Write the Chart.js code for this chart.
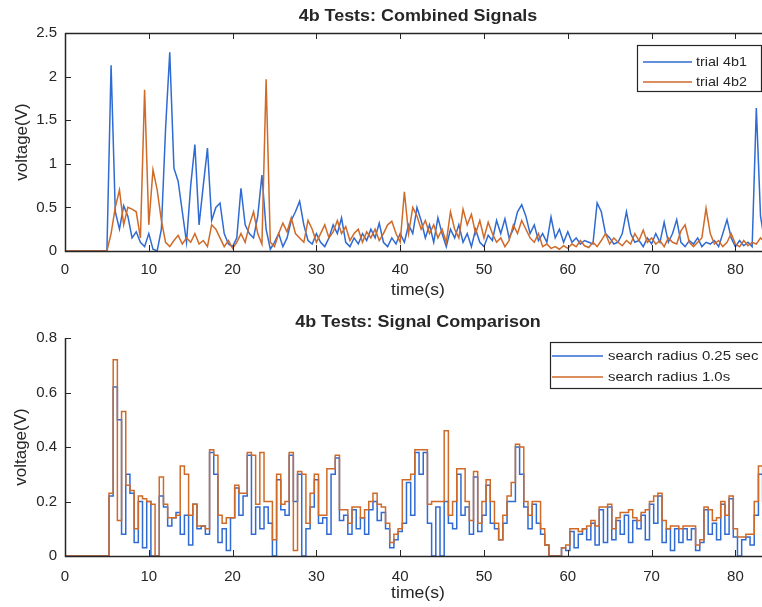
<!DOCTYPE html>
<html>
<head>
<meta charset="utf-8">
<script src="https://cdn.jsdelivr.net/npm/chart.js@4.4.1/dist/chart.umd.min.js"></script>
<style>
  html, body { margin: 0; padding: 0; background: #fff; overflow: hidden; }
  body { width: 762px; height: 607px; position: relative; }
  .panel { position: absolute; left: 0; width: 775px; }
  #top { top: 0; height: 300px; }
  #bottom { top: 300px; height: 307px; }
</style>
</head>
<body>
<div class="panel" id="top"><canvas id="chart-top"></canvas></div>
<div class="panel" id="bottom"><canvas id="chart-bottom"></canvas></div>
<script>
// samples every 0.5 s
const trial4b1 = [
    0, 0, 0, 0, 0, 0, 0, 0, 0, 0, 0,
    2.13, 0.45, 0.25, 0.52, 0.4, 0.15, 0.22, 0.1, 0.05, 0.2,
    0.02, 0, 0.25, 1.4, 2.28, 0.95, 0.8, 0.45, 0.1, 0.75,
    1.22, 0.3, 0.75, 1.18, 0.35, 0.5, 0.55, 0.2, 0.08, 0.05,
    0.15, 0.72, 0.3, 0.2, 0.15, 0.4, 0.87, 0.25, 0.02, 0.1,
    0.2, 0.05, 0.15, 0.35, 0.45, 0.57, 0.3, 0.12, 0.08, 0.2,
    0.1, 0.05, 0.15, 0.3, 0.2, 0.38, 0.1, 0.05, 0.15, 0.08,
    0.2, 0.12, 0.25, 0.15, 0.32, 0.1, 0.05, 0.15, 0.08, 0.2,
    0.1, 0.3, 0.2, 0.5, 0.35, 0.15, 0.3, 0.1, 0.38, 0.2,
    0.05, 0.25, 0.15, 0.3, 0.1, 0.2, 0.05, 0.25, 0.1, 0.05,
    0.18, 0.12, 0.35, 0.2, 0.37, 0.15, 0.25, 0.45, 0.53, 0.4,
    0.2, 0.3, 0.12, 0.2, 0.1, 0.39, 0.15, 0.25, 0.1, 0.22,
    0.1, 0.15, 0.08, 0.12, 0.1, 0.08, 0.55, 0.45, 0.2, 0.15,
    0.08, 0.1, 0.2, 0.45, 0.2, 0.1, 0.12, 0.05, 0.15, 0.08,
    0.2, 0.1, 0.33, 0.1, 0.2, 0.36, 0.1, 0.05, 0.12, 0.08,
    0.15, 0.05, 0.1, 0.08, 0.12, 0.05, 0.2, 0.36, 0.15, 0.05,
    0.12, 0.06, 0.1, 0.05, 1.64, 0.4, 0.1, 0.12, 0.1
];
const trial4b2 = [
    0, 0, 0, 0, 0, 0, 0, 0, 0, 0, 0,
    0.2, 0.5, 0.7, 0.3, 0.5, 0.48, 0.45, 0.15, 1.85, 0.3,
    0.93, 0.7, 0.35, 0.1, 0.05, 0.12, 0.18, 0.08, 0.15, 0.1,
    0.2, 0.08, 0.12, 0.05, 0.3, 0.25, 0.15, 0.05, 0.12, 0.03,
    0.1, 0.2, 0.1, 0.3, 0.45, 0.2, 0.08, 1.97, 0.1, 0.05,
    0.2, 0.32, 0.22, 0.38, 0.2, 0.15, 0.1, 0.35, 0.25, 0.1,
    0.2, 0.3, 0.15, 0.22, 0.35, 0.2, 0.28, 0.12, 0.2, 0.25,
    0.1, 0.22, 0.15, 0.25, 0.12, 0.2, 0.3, 0.34, 0.2, 0.1,
    0.68, 0.2, 0.5, 0.4, 0.25, 0.35, 0.2, 0.3, 0.15, 0.25,
    0.1, 0.45, 0.25, 0.15, 0.48, 0.3, 0.42, 0.2, 0.35, 0.15,
    0.33, 0.2, 0.1, 0.15, 0.05, 0.12, 0.3, 0.2, 0.35, 0.25,
    0.15, 0.1, 0.2, 0.05, 0.08, 0.03, 0.05, 0.02, 0.06, 0.03,
    0.08, 0.05, 0.12, 0.06, 0.04, 0.1, 0.05, 0.12, 0.2, 0.08,
    0.15, 0.1, 0.06, 0.12, 0.08, 0.2, 0.12, 0.24, 0.1, 0.15,
    0.08, 0.12, 0.05, 0.15, 0.1, 0.08, 0.23, 0.3, 0.1, 0.05,
    0.1, 0.15, 0.49, 0.2, 0.08, 0.12, 0.05, 0.1, 0.2, 0.08,
    0.05, 0.12, 0.06, 0.1, 0.08, 0.15, 0.1, 0.1, 0.12
];
const radius025 = [
    0, 0, 0, 0, 0, 0, 0, 0, 0, 0, 0,
    0.22, 0.62, 0.5, 0.08, 0.3, 0.23, 0.05, 0.2, 0.03, 0.2,
    0, 0, 0.22, 0.18, 0.11, 0.14, 0.16, 0.08, 0.15, 0.04,
    0.19, 0.1, 0.11, 0.08, 0.38, 0.3, 0.05, 0.1, 0.02, 0.14,
    0.25, 0.15, 0.22, 0.37, 0.08, 0.18, 0.1, 0.18, 0.12, 0,
    0.28, 0.17, 0.15, 0.37, 0.2, 0.3, 0, 0.1, 0.18, 0.28,
    0.12, 0.14, 0.08, 0.3, 0.36, 0.13, 0.15, 0.08, 0.17, 0.1,
    0.14, 0.08, 0.17, 0.2, 0.13, 0.16, 0.1, 0.03, 0.06, 0.09,
    0.12, 0.27, 0.15, 0.38, 0.3, 0.38, 0.12, 0, 0.18, 0,
    0.2, 0.12, 0.1, 0.3, 0.15, 0.18, 0.08, 0.29, 0.09, 0.15,
    0.26, 0.12, 0.1, 0.06, 0.12, 0.2, 0.2, 0.4, 0.3, 0.18,
    0.1, 0.19, 0.12, 0.08, 0.04, 0, 0, 0, 0.03, 0.02,
    0.09, 0.03, 0.08, 0.1, 0.06, 0.12, 0.04, 0.17, 0.05, 0.18,
    0.06, 0.13, 0.08, 0.15, 0.05, 0.13, 0.1, 0.15, 0.06, 0.19,
    0.12, 0.22, 0.05, 0.1, 0.02, 0.1, 0.05, 0.1, 0.06, 0.1,
    0.02, 0.05, 0.17, 0.08, 0.12, 0.06, 0.19, 0.08, 0.21, 0.07,
    0, 0.06, 0.07, 0.04, 0.15, 0.3, 0.2, 0.25, 0.3
];
const radius10 = [
    0, 0, 0, 0, 0, 0, 0, 0, 0, 0, 0,
    0.23, 0.72, 0.13, 0.53, 0.26, 0.24, 0.1, 0.22, 0.21, 0.2,
    0.19, 0, 0.29, 0.19, 0.14, 0.14, 0.15, 0.33, 0.3, 0.15,
    0.19, 0.11, 0.11, 0.1, 0.39, 0.37, 0.15, 0.12, 0.14, 0.14,
    0.26, 0.23, 0.23, 0.38, 0.37, 0.19, 0.38, 0.2, 0.2, 0.06,
    0.3, 0.19, 0.2, 0.38, 0.02, 0.31, 0.3, 0.12, 0.23, 0.3,
    0.15, 0.15, 0.32, 0.32, 0.37, 0.17, 0.17, 0.12, 0.18, 0.18,
    0.14, 0.17, 0.2, 0.23, 0.19, 0.18, 0.12, 0.05, 0.08, 0.1,
    0.28, 0.28, 0.3, 0.39, 0.39, 0.39, 0.19, 0.2, 0.2, 0.2,
    0.46, 0.15, 0.2, 0.32, 0.32, 0.2, 0.13, 0.31, 0.12, 0.2,
    0.28, 0.2, 0.12, 0.06, 0.15, 0.22, 0.27, 0.41, 0.4, 0.2,
    0.15, 0.2, 0.2, 0.1, 0.04, 0, 0, 0, 0.03, 0.04,
    0.1, 0.1, 0.09, 0.1, 0.11, 0.13, 0.11, 0.18, 0.18, 0.19,
    0.1, 0.14, 0.16, 0.16, 0.17, 0.14, 0.13, 0.16, 0.17, 0.2,
    0.22, 0.23, 0.13, 0.1, 0.11, 0.11, 0.1, 0.11, 0.11, 0.11,
    0.04, 0.06, 0.18, 0.17, 0.13, 0.14, 0.2, 0.15, 0.22, 0.1,
    0.07, 0.07, 0.08, 0.08, 0.2, 0.33, 0.3, 0.33, 0.33
];

const xTicksStep = 10;
const topYTicks = { max: 2.5, step: 0.5 };
const bottomYTicks = { max: 0.8, step: 0.2 };
const X_MAX = 84.25;

const BLUE = '#2f6bd3';
const ORANGE = '#cf6a28';
const FONT = "'Liberation Sans', Arial, Helvetica, sans-serif";
const INK = '#262626';

const time = [];
for (let i = 0; i < trial4b1.length; i++) time.push(i * 0.5);
const toPoints = vals => vals.map((v, i) => ({ x: time[i], y: v }));

function drawText(ctx, str, x, y, font, opts = {}) {
    ctx.save();
    ctx.font = font;
    ctx.fillStyle = INK;
    ctx.translate(x, y);
    if (opts.rotate) ctx.rotate(opts.rotate);
    ctx.scale(opts.sx || 1, 1);
    ctx.textAlign = opts.align || 'center';
    ctx.textBaseline = 'middle';
    ctx.fillText(str, 0, 0);
    ctx.restore();
}

// MATLAB-ish frame: axis lines, inward ticks, titles, boxed legend
const matlabFrame = {
    id: 'matlabFrame',
    afterDraw(chart, args, o) {
        const { ctx, chartArea: a, scales } = chart;
        ctx.save();
        ctx.strokeStyle = INK;
        ctx.lineWidth = 1.5;
        ctx.beginPath();
        ctx.moveTo(a.left + 0.5, a.top);
        ctx.lineTo(a.left + 0.5, a.bottom + 0.5);
        ctx.lineTo(a.right, a.bottom + 0.5);
        if (o.box) {
            ctx.moveTo(a.left, a.top + 0.5);
            ctx.lineTo(a.right, a.top + 0.5);
            ctx.lineTo(a.right, a.bottom);
        }
        ctx.stroke();

        const tl = 6;
        ctx.lineWidth = 1;
        ctx.beginPath();
        scales.x.ticks.forEach(t => {
            const x = Math.round(scales.x.getPixelForValue(t.value)) + 0.5;
            ctx.moveTo(x, a.bottom);
            ctx.lineTo(x, a.bottom - tl);
            if (o.box) {
                ctx.moveTo(x, a.top);
                ctx.lineTo(x, a.top + tl);
            }
        });
        scales.y.ticks.forEach(t => {
            const y = Math.round(scales.y.getPixelForValue(t.value)) + 0.5;
            ctx.moveTo(a.left, y);
            ctx.lineTo(a.left + tl, y);
        });
        ctx.stroke();
        ctx.restore();

        drawText(ctx, o.title, o.titleX, o.titleY, `bold 16px ${FONT}`, { sx: 1.12 });
        drawText(ctx, 'time(s)', o.titleX, o.xLabelY, `16px ${FONT}`, { sx: 1.1 });
        drawText(ctx, 'voltage(V)', o.yLabelX, (a.top + a.bottom) / 2, `17px ${FONT}`, { rotate: -Math.PI / 2 });

        // legend
        const L = o.legend;
        ctx.save();
        ctx.fillStyle = '#fff';
        ctx.fillRect(L.x, L.y, L.w, L.h);
        ctx.strokeStyle = INK;
        ctx.lineWidth = 1.2;
        ctx.strokeRect(L.x + 0.5, L.y + 0.5, L.w, L.h);
        chart.data.datasets.forEach((ds, i) => {
            const y = L.rowY[i];
            ctx.strokeStyle = ds.borderColor;
            ctx.lineWidth = 1.5;
            ctx.beginPath();
            ctx.moveTo(L.lineX0, y);
            ctx.lineTo(L.lineX1, y);
            ctx.stroke();
            drawText(ctx, ds.label, L.textX, y, L.font, { align: 'left', sx: L.sx });
        });
        ctx.restore();
    }
};

function buildPanel(canvasId, cfg) {
    const n = cfg.series.length;
    return new Chart(document.getElementById(canvasId), {
        type: 'line',
        data: {
            datasets: cfg.series.map((s, i) => ({
                label: s.label,
                data: toPoints(s.values),
                borderColor: s.color,
                borderWidth: 1.5,
                pointRadius: 0,
                tension: 0,
                stepped: cfg.stepped || false,
                fill: false,
                order: n - i,
            }))
        },
        options: {
            responsive: true,
            maintainAspectRatio: false,
            animation: false,
            layout: { padding: { top: cfg.padTop, right: 4, left: 0, bottom: 0 } },
            plugins: {
                legend: { display: false },
                tooltip: { enabled: false },
                matlabFrame: cfg.frame,
            },
            scales: {
                x: {
                    type: 'linear',
                    min: 0,
                    max: X_MAX,
                    afterFit: s => { s.height = cfg.xAxisHeight; },
                    grid: { display: false, drawTicks: false },
                    border: { display: false },
                    ticks: {
                        stepSize: xTicksStep,
                        includeBounds: false,
                        maxRotation: 0,
                        padding: cfg.xTickPad,
                        color: INK,
                        font: { family: FONT, size: 15 },
                        callback: v => String(v),
                    }
                },
                y: {
                    min: 0,
                    max: cfg.y.max,
                    afterFit: s => { s.width = 65; },
                    grid: { display: false, drawTicks: false },
                    border: { display: false },
                    ticks: {
                        stepSize: cfg.y.step,
                        padding: 8,
                        color: INK,
                        font: { family: FONT, size: 15 },
                        callback: v => String(+v.toFixed(1)),
                    }
                }
            }
        },
        plugins: [matlabFrame]
    });
}

buildPanel('chart-top', {
    series: [
        { label: 'trial 4b1', values: trial4b1, color: BLUE },
        { label: 'trial 4b2', values: trial4b2, color: ORANGE },
    ],
    y: topYTicks,
    padTop: 33,
    xAxisHeight: 49,
    xTickPad: 10,
    frame: {
        box: true,
        title: '4b Tests: Combined Signals',
        titleX: 418, titleY: 17, xLabelY: 291, yLabelX: 22,
        legend: {
            x: 637, y: 45, w: 124, h: 46,
            rowY: [62, 82], lineX0: 643, lineX1: 692, textX: 696,
            font: `13px ${FONT}`, sx: 1.1,
        }
    }
});

buildPanel('chart-bottom', {
    series: [
        { label: 'search radius 0.25 sec', values: radius025, color: BLUE },
        { label: 'search radius 1.0s', values: radius10, color: ORANGE },
    ],
    y: bottomYTicks,
    stepped: 'middle',
    padTop: 38,
    xAxisHeight: 51,
    xTickPad: 12,
    frame: {
        box: false,
        title: '4b Tests: Signal Comparison',
        titleX: 418, titleY: 23, xLabelY: 294, yLabelX: 21,
        legend: {
            x: 550, y: 42, w: 216, h: 46,
            rowY: [56, 77], lineX0: 552, lineX1: 603, textX: 608,
            font: `13px ${FONT}`, sx: 1.15,
        }
    }
});
</script>
</body>
</html>
